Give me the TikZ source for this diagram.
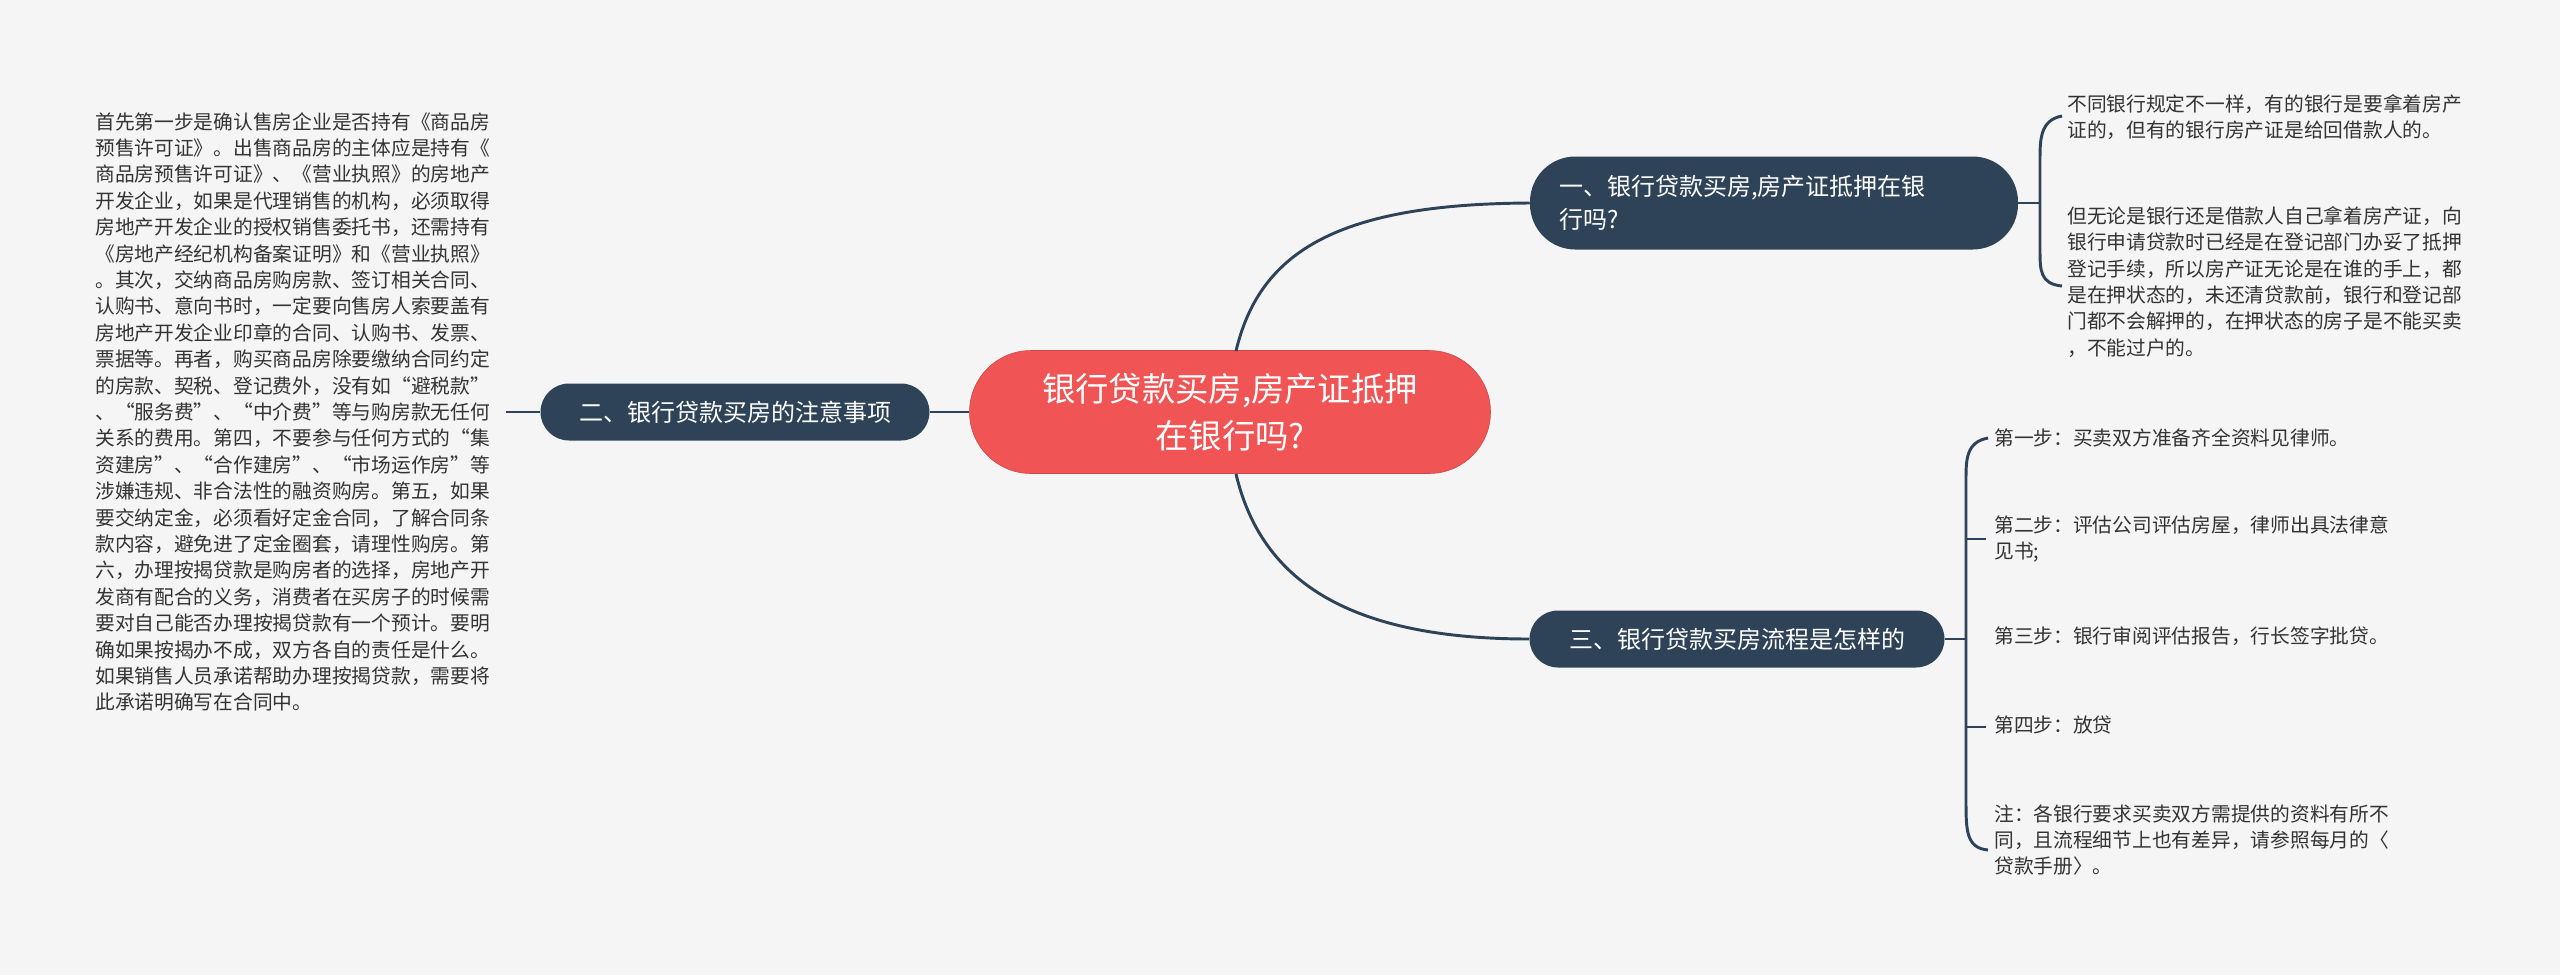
\documentclass[tikz,border=0pt]{standalone}
\usepackage{fontspec}
\setmainfont{Noto Sans CJK SC}
\begin{document}
\begin{tikzpicture}[x=0.75pt,y=-0.75pt]
\definecolor{bg}{HTML}{F5F5F5}
\definecolor{dk}{HTML}{2E4358}
\definecolor{rd}{HTML}{F05454}
\definecolor{tx}{HTML}{333333}
\tikzset{
 branch/.style={fill=dk,text=white,rounded corners=28.5*0.75pt,inner sep=0pt,align=left,font=\fontsize{18}{25}\selectfont},
 leaf/.style={text=tx,anchor=north west,inner sep=0pt,align=left,font=\fontsize{14.8}{19.8}\selectfont},
 conn/.style={draw=dk,line width=2.2pt}
}
\fill[bg] (0,0) rectangle (2560,975);
\useasboundingbox (0,0) rectangle (2560,975);
\node[fill=rd,draw=rd!85!black,text=white,rounded corners=46pt,minimum width=521*0.75pt,minimum height=123*0.75pt,align=center,font=\fontsize{25}{35}\selectfont] (c) at (1230,412) {银行贷款买房,房产证抵押\\在银行吗?};
\node[branch,minimum width=488*0.75pt,minimum height=93*0.75pt,rounded corners=34pt,text width=430*0.75pt] (b1) at (1774,203) {一、银行贷款买房,房产证抵押在银\\行吗?};
\node[branch,minimum width=389*0.75pt,minimum height=57*0.75pt] (b2) at (735,412) {二、银行贷款买房的注意事项};
\node[branch,minimum width=415*0.75pt,minimum height=57*0.75pt] (b3) at (1737,639) {三、银行贷款买房流程是怎样的};
\node[leaf] (l0) at (95,112) {首先第一步是确认售房企业是否持有《商品房\\预售许可证》。出售商品房的主体应是持有《\\商品房预售许可证》、《营业执照》的房地产\\开发企业，如果是代理销售的机构，必须取得\\房地产开发企业的授权销售委托书，还需持有\\《房地产经纪机构备案证明》和《营业执照》\\。其次，交纳商品房购房款、签订相关合同、\\认购书、意向书时，一定要向售房人索要盖有\\房地产开发企业印章的合同、认购书、发票、\\票据等。再者，购买商品房除要缴纳合同约定\\的房款、契税、登记费外，没有如“避税款”\\、“服务费”、“中介费”等与购房款无任何\\关系的费用。第四，不要参与任何方式的“集\\资建房”、“合作建房”、“市场运作房”等\\涉嫌违规、非合法性的融资购房。第五，如果\\要交纳定金，必须看好定金合同，了解合同条\\款内容，避免进了定金圈套，请理性购房。第\\六，办理按揭贷款是购房者的选择，房地产开\\发商有配合的义务，消费者在买房子的时候需\\要对自己能否办理按揭贷款有一个预计。要明\\确如果按揭办不成，双方各自的责任是什么。\\如果销售人员承诺帮助办理按揭贷款，需要将\\此承诺明确写在合同中。};
\node[leaf] (r1) at (2067,94) {不同银行规定不一样，有的银行是要拿着房产\\证的，但有的银行房产证是给回借款人的。};
\node[leaf] (r2) at (2067,206) {但无论是银行还是借款人自己拿着房产证，向\\银行申请贷款时已经是在登记部门办妥了抵押\\登记手续，所以房产证无论是在谁的手上，都\\是在押状态的，未还清贷款前，银行和登记部\\门都不会解押的，在押状态的房子是不能买卖\\，不能过户的。};
\node[leaf] (s1) at (1994,428) {第一步：买卖双方准备齐全资料见律师。};
\node[leaf] (s2) at (1994,515) {第二步：评估公司评估房屋，律师出具法律意\\见书;};
\node[leaf] (s3) at (1994,627) {第三步：银行审阅评估报告，行长签字批贷。};
\node[leaf] (s4) at (1994,716) {第四步：放贷};
\node[leaf] (s5) at (1994,804) {注：各银行要求买卖双方需提供的资料有所不\\同，且流程细节上也有差异，请参照每月的〈\\贷款手册〉。};
% connectors
\coordinate (c1) at (1236,351);
\coordinate (c3) at (1236,474);
\draw[conn] (c1) .. controls (1260,250) and (1340,204) .. (b1.west);
\draw[conn] (c3) .. controls (1260,575) and (1340,639) .. (b3.west);
\draw[conn] (b2.east) -- (c.west);
\coordinate (t0) at (506,412);
\draw[conn] (t0) -- (b2.west);
% bracket 1
\coordinate (k1) at (2040,203);
\draw[conn] (b1.east) -- (k1);
\draw[conn] (2062,116) .. controls (2040,120) and (2040,140) .. (2040,160) -- (2040,250) .. controls (2040,270) and (2040,284) .. (2062,286);
% bracket 3
\coordinate (k3) at (1966,639);
\draw[conn] (b3.east) -- (k3);
\draw[conn] (1988,438) .. controls (1966,442) and (1966,460) .. (1966,480) -- (1966,800) .. controls (1966,830) and (1966,848) .. (1988,850);
\foreach \y in {539,727}{\draw[conn] (1966,\y) -- (1986,\y);}
\end{tikzpicture}
\end{document}
